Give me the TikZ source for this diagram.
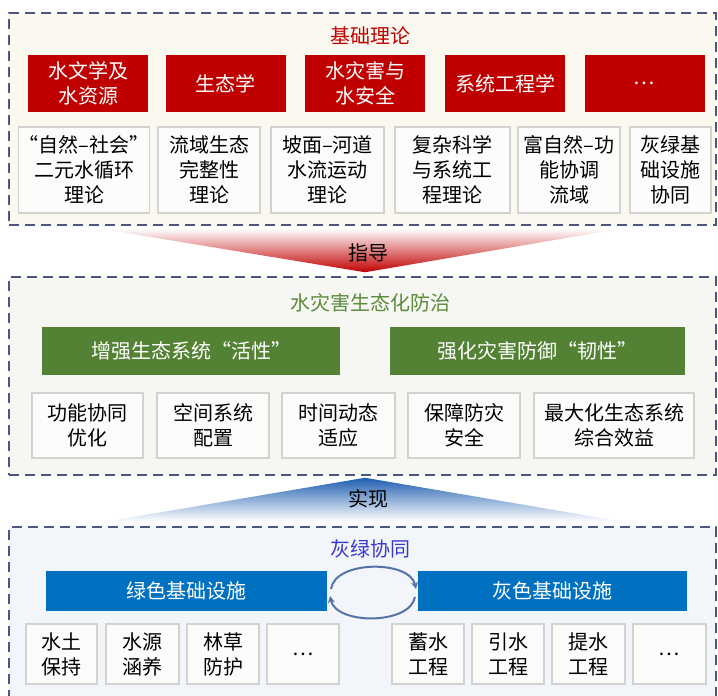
\documentclass[tikz,border=0pt]{standalone}
\usepackage{fontspec}
\newfontfamily\cjk{Noto Sans CJK SC}
\usetikzlibrary{arrows.meta,calc}
\definecolor{pborder}{HTML}{4B5780}
\definecolor{bred}{HTML}{C00000}
\definecolor{bgreen}{HTML}{548235}
\definecolor{tgreen}{HTML}{5B8A3A}
\definecolor{bblue}{HTML}{0070C0}
\definecolor{tblue}{HTML}{3A3AD0}
\definecolor{cream}{HTML}{FBF9EF}
\definecolor{midbg}{HTML}{F6F7F3}
\definecolor{botbg}{HTML}{F2F5FA}
\definecolor{cellbg}{HTML}{FCFCFA}
\definecolor{cellline}{HTML}{D2D2D0}
\definecolor{cyc}{HTML}{5573A8}
\definecolor{tri}{HTML}{1F5FB0}
\begin{document}
\begin{tikzpicture}[x=1pt,y=-1pt,
  txt/.style={font=\cjk\fontsize{20}{25}\selectfont, align=center, inner sep=0pt, outer sep=0pt},
  panel/.style={draw=pborder, line width=1.5pt, dash pattern=on 10pt off 6pt, minimum width=707pt, inner sep=0pt},
  head/.style={txt, fill=#1, text=white, minimum height=57pt, minimum width=120pt},
  cell/.style={txt, draw=cellline, fill=cellbg, line width=1.3pt, text=black},
  cyca/.style={draw=cyc, line width=2pt, -{Stealth[length=7pt,width=7pt]}}
]
\clip (0,0) rectangle (718,696);
\fill[white] (0,0) rectangle (718,696);

% panels
\node[panel, fill=cream, minimum height=212pt] (p1) at (362.5,119) {};
\node[panel, fill=midbg, minimum height=198pt] (p2) at (362.5,376) {};
\node[panel, fill=botbg, minimum height=183pt] (p3) at (362.5,618.5) {};

% arrows between panels
\shade[top color=white, bottom color=bred]
  ($(p1.south)+(-262,3)$) -- ($(p1.south)+(258,3)$) -- ($(p2.north)+(2.5,-4)$) -- cycle;
\node[txt] (l1) at (368,253) {指导};
\shade[top color=tri, bottom color=white]
  ($(p2.south)+(2.5,2)$) -- ($(p3.north)+(258,-5)$) -- ($(p3.north)+(-255,-5)$) -- cycle;
\node[txt] (l2) at (368,499) {实现};

% top panel
\node[txt, text=bred] (t0) at (370,36) {基础理论};
\node[head=bred] (r1) at (88,83.5) {水文学及\\水资源};
\node[head=bred] (r2) at (225.5,83.5) {生态学};
\node[head=bred] (r3) at (365,83.5) {水灾害与\\水安全};
\node[head=bred] (r4) at (505,83.5) {系统工程学};
\node[head=bred] (r5) at (644.5,83.5) {…};

\node[cell, minimum height=86pt, minimum width=128pt] (a1) at (84,170) {“自然–社会”\\二元水循环\\理论};
\node[cell, minimum height=86pt, minimum width=102pt] (a2) at (209,170) {流域生态\\完整性\\理论};
\node[cell, minimum height=86pt, minimum width=113pt] (a3) at (327.5,170) {坡面–河道\\水流运动\\理论};
\node[cell, minimum height=86pt, minimum width=115pt] (a4) at (452.5,170) {复杂科学\\与系统工\\程理论};
\node[cell, minimum height=86pt, minimum width=102pt] (a5) at (569,170) {富自然–功\\能协调\\流域};
\node[cell, minimum height=86pt, minimum width=81pt] (a6) at (670.5,170) {灰绿基\\础设施\\协同};

% middle panel
\node[txt, text=tgreen] (m0) at (370,303) {水灾害生态化防治};
\node[txt, fill=bgreen, text=white, minimum height=48pt, minimum width=298pt] (gL) at (191,351) {增强生态系统“活性”};
\node[txt, fill=bgreen, text=white, minimum height=48pt, minimum width=295pt] (gR) at (537.5,351) {强化灾害防御“韧性”};
\node[cell, minimum height=65pt, minimum width=111pt] (b1) at (87.5,425.5) {功能协同\\优化};
\node[cell, minimum height=65pt, minimum width=112pt] (b2) at (213,425.5) {空间系统\\配置};
\node[cell, minimum height=65pt, minimum width=113pt] (b3) at (338.5,425.5) {时间动态\\适应};
\node[cell, minimum height=65pt, minimum width=112pt] (b4) at (464,425.5) {保障防灾\\安全};
\node[cell, minimum height=65pt, minimum width=160pt] (b5) at (614,425.5) {最大化生态系统\\综合效益};

% bottom panel
\node[txt, text=tblue] (n0) at (370,549) {灰绿协同};
\node[txt, fill=bblue, text=white, minimum height=40pt, minimum width=281pt] (uL) at (186.5,591) {绿色基础设施};
\node[txt, fill=bblue, text=white, minimum height=40pt, minimum width=269pt] (uR) at (552.5,591) {灰色基础设施};
\draw[cyca] ($(uL.east)+(4,-2)$) .. controls ($(uL.east)+(8,-31)$) and ($(uR.west)+(-8,-31)$) .. ($(uR.west)+(-2,-2)$);
\draw[cyca] ($(uR.west)+(-3,6)$) .. controls ($(uR.west)+(-8,34)$) and ($(uL.east)+(9,34)$) .. ($(uL.east)+(3,5)$);

\node[cell, minimum height=60pt, minimum width=71pt] (c1) at (61.5,654) {水土\\保持};
\node[cell, minimum height=60pt, minimum width=73pt] (c2) at (142.5,654) {水源\\涵养};
\node[cell, minimum height=60pt, minimum width=72pt] (c3) at (223,654) {林草\\防护};
\node[cell, minimum height=60pt, minimum width=72pt] (c4) at (303,654) {…};
\node[cell, minimum height=60pt, minimum width=72pt] (d1) at (428,654) {蓄水\\工程};
\node[cell, minimum height=60pt, minimum width=72pt] (d2) at (508,654) {引水\\工程};
\node[cell, minimum height=60pt, minimum width=73pt] (d3) at (588.5,654) {提水\\工程};
\node[cell, minimum height=60pt, minimum width=73pt] (d4) at (669.5,654) {…};
\end{tikzpicture}
\end{document}
